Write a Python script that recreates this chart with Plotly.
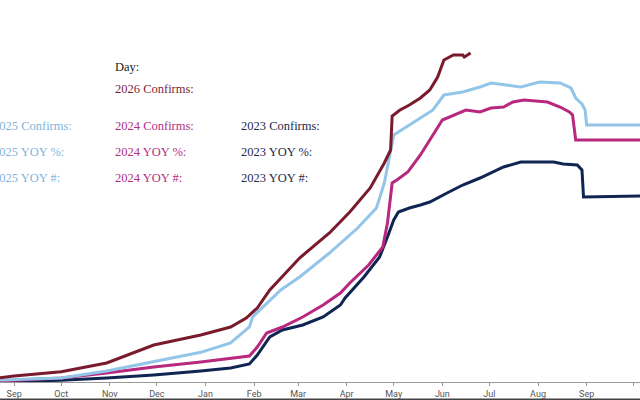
import plotly.graph_objects as go

# ---- data (values in arbitrary units) ----
d2026 = ["2025-08-23","2025-09-01","2025-10-01","2025-10-30","2025-11-29","2025-12-29",
         "2026-01-17","2026-01-27","2026-02-03","2026-02-11","2026-03-02","2026-03-21",
         "2026-04-03","2026-04-16","2026-04-25","2026-04-29","2026-04-30","2026-05-05",
         "2026-05-11","2026-05-18","2026-05-24","2026-05-29","2026-06-02","2026-06-08",
         "2026-06-14","2026-06-15","2026-06-19"]
v2026 = [1.3,1.8,3.1,5.7,11.1,14.1,16.5,19.2,22.2,27.6,37.2,44.7,51.0,58.2,65.7,69.6,
         79.8,81.6,83.1,85.2,87.6,91.5,96.6,98.1,98.1,97.5,98.7]

d2025 = ["2025-08-23","2025-10-01","2025-10-30","2025-11-29","2025-12-29","2026-01-17",
         "2026-01-29","2026-01-31","2026-02-09","2026-02-18","2026-03-02","2026-03-21",
         "2026-04-08","2026-04-20","2026-04-25","2026-04-29","2026-05-01","2026-05-13",
         "2026-05-26","2026-06-02","2026-06-14","2026-06-25","2026-07-02","2026-07-21",
         "2026-08-02","2026-08-15","2026-08-22","2026-08-25","2026-08-29","2026-08-31",
         "2026-09-01","2026-10-05"]
v2025 = [0.6,1.2,3.3,6.0,8.9,11.7,16.5,19.5,23.7,27.6,31.5,38.7,46.2,52.2,59.7,69.6,74.1,
         77.7,81.6,86.1,87.0,88.5,89.7,88.5,90.0,89.7,88.2,85.2,83.4,81.6,77.1,77.1]

d2024 = ["2025-08-23","2025-10-01","2025-10-30","2025-11-29","2025-12-29","2026-01-17",
         "2026-01-29","2026-02-03","2026-02-09","2026-02-19","2026-03-04","2026-03-17",
         "2026-03-28","2026-04-03","2026-04-15","2026-04-24","2026-04-27","2026-04-30",
         "2026-05-03","2026-05-10","2026-05-18","2026-06-01","2026-06-04","2026-06-16",
         "2026-06-25","2026-07-02","2026-07-10","2026-07-16","2026-07-23","2026-07-29",
         "2026-08-07","2026-08-15","2026-08-21","2026-08-23","2026-08-25","2026-10-05"]
v2024 = [0.3,1.2,2.7,4.5,6.0,7.2,7.8,10.5,14.7,16.5,19.5,23.1,26.7,29.7,35.1,40.5,47.7,
         59.7,60.6,63.0,68.1,78.6,79.2,81.6,81.0,82.2,82.5,84.0,84.6,84.3,84.0,82.5,81.0,
         80.1,72.6,72.6]

d2023 = ["2025-08-23","2025-10-01","2025-10-30","2025-11-29","2025-12-29","2026-01-17",
         "2026-01-29","2026-02-03","2026-02-11","2026-02-19","2026-03-04","2026-03-17",
         "2026-03-28","2026-03-31","2026-04-12","2026-04-22","2026-04-27","2026-05-01",
         "2026-05-04","2026-05-11","2026-05-18","2026-05-24","2026-06-04","2026-06-14",
         "2026-06-25","2026-07-02","2026-07-10","2026-07-21","2026-08-11","2026-08-17",
         "2026-08-26","2026-08-29","2026-08-30","2026-10-05"]
v2023 = [0.2,0.5,1.2,2.1,3.3,4.2,5.4,8.1,13.5,15.6,17.1,19.5,23.1,25.2,31.5,37.5,43.5,
         48.6,51.0,52.2,53.1,54.0,56.7,59.1,61.2,62.7,64.5,66.0,66.0,65.4,65.1,63.6,55.5,55.8]

month_ticks = ["2025-09-01","2025-10-01","2025-11-01","2025-12-01","2026-01-01","2026-02-01",
               "2026-03-01","2026-04-01","2026-05-01","2026-06-01","2026-07-01","2026-08-01",
               "2026-09-01","2026-10-01"]
month_labels = ["Sep","Oct","Nov","Dec","Jan","Feb","Mar","Apr","May","Jun","Jul","Aug","Sep","Oct"]

series = [
    ("2023", d2023, v2023, "#0f2552"),
    ("2024", d2024, v2024, "#b8287f"),
    ("2025", d2025, v2025, "#92c5e8"),
    ("2026", d2026, v2026, "#7a1a2d"),
]

fig = go.Figure()
for name, d, v, c in series:
    fig.add_trace(go.Scatter(x=d, y=v, mode="lines", name=name,
                             line=dict(color=c, width=3), showlegend=False))

H_PLOT = 382.0
def py(p):
    return (H_PLOT - p) / H_PLOT

serif = "Liberation Serif"
ann = [
    ("Day:", 113, 67, "#222222"),
    ("2026 Confirms:", 113, 89, "#7b1f35"),
    ("2025 Confirms:", -9, 126, "#7fb5dc"),
    ("2024 Confirms:", 113, 126, "#b0307f"),
    ("2023 Confirms:", 239, 126, "#1c2b4a"),
    ("2025 YOY %:", -9, 152, "#7fb5dc"),
    ("2024 YOY %:", 113, 152, "#b0307f"),
    ("2023 YOY %:", 239, 152, "#1c2b4a"),
    ("2025 YOY #:", -9, 178, "#7fb5dc"),
    ("2024 YOY #:", 113, 178, "#b0307f"),
    ("2023 YOY #:", 239, 178, "#1c2b4a"),
]
for t, x, y, c in ann:
    fig.add_annotation(text=t, xref="paper", yref="paper", x=x / 640, y=py(y),
                       xanchor="left", yanchor="middle", showarrow=False,
                       font=dict(family=serif, size=12.5, color=c))

fig.add_shape(type="line", xref="paper", yref="paper", x0=0, x1=1,
              y0=py(399.5), y1=py(399.5), line=dict(color="#444444", width=2))

fig.update_layout(
    width=640, height=400,
    margin=dict(l=0, r=0, t=0, b=18),
    paper_bgcolor="white", plot_bgcolor="white",
    xaxis=dict(type="date", range=["2025-08-23", "2026-10-05"],
               tickvals=month_ticks, ticktext=month_labels,
               showline=True, linecolor="#999999", linewidth=1,
               ticks="outside", ticklen=3, tickcolor="#999999",
               tickfont=dict(family="Liberation Sans Narrow, Roboto", size=9, color="#555555"),
               showgrid=False, zeroline=False),
    yaxis=dict(range=[0, 114.6], showgrid=False, zeroline=False,
               showticklabels=False, showline=False, ticks=""),
)

fig.write_html("out.html")
